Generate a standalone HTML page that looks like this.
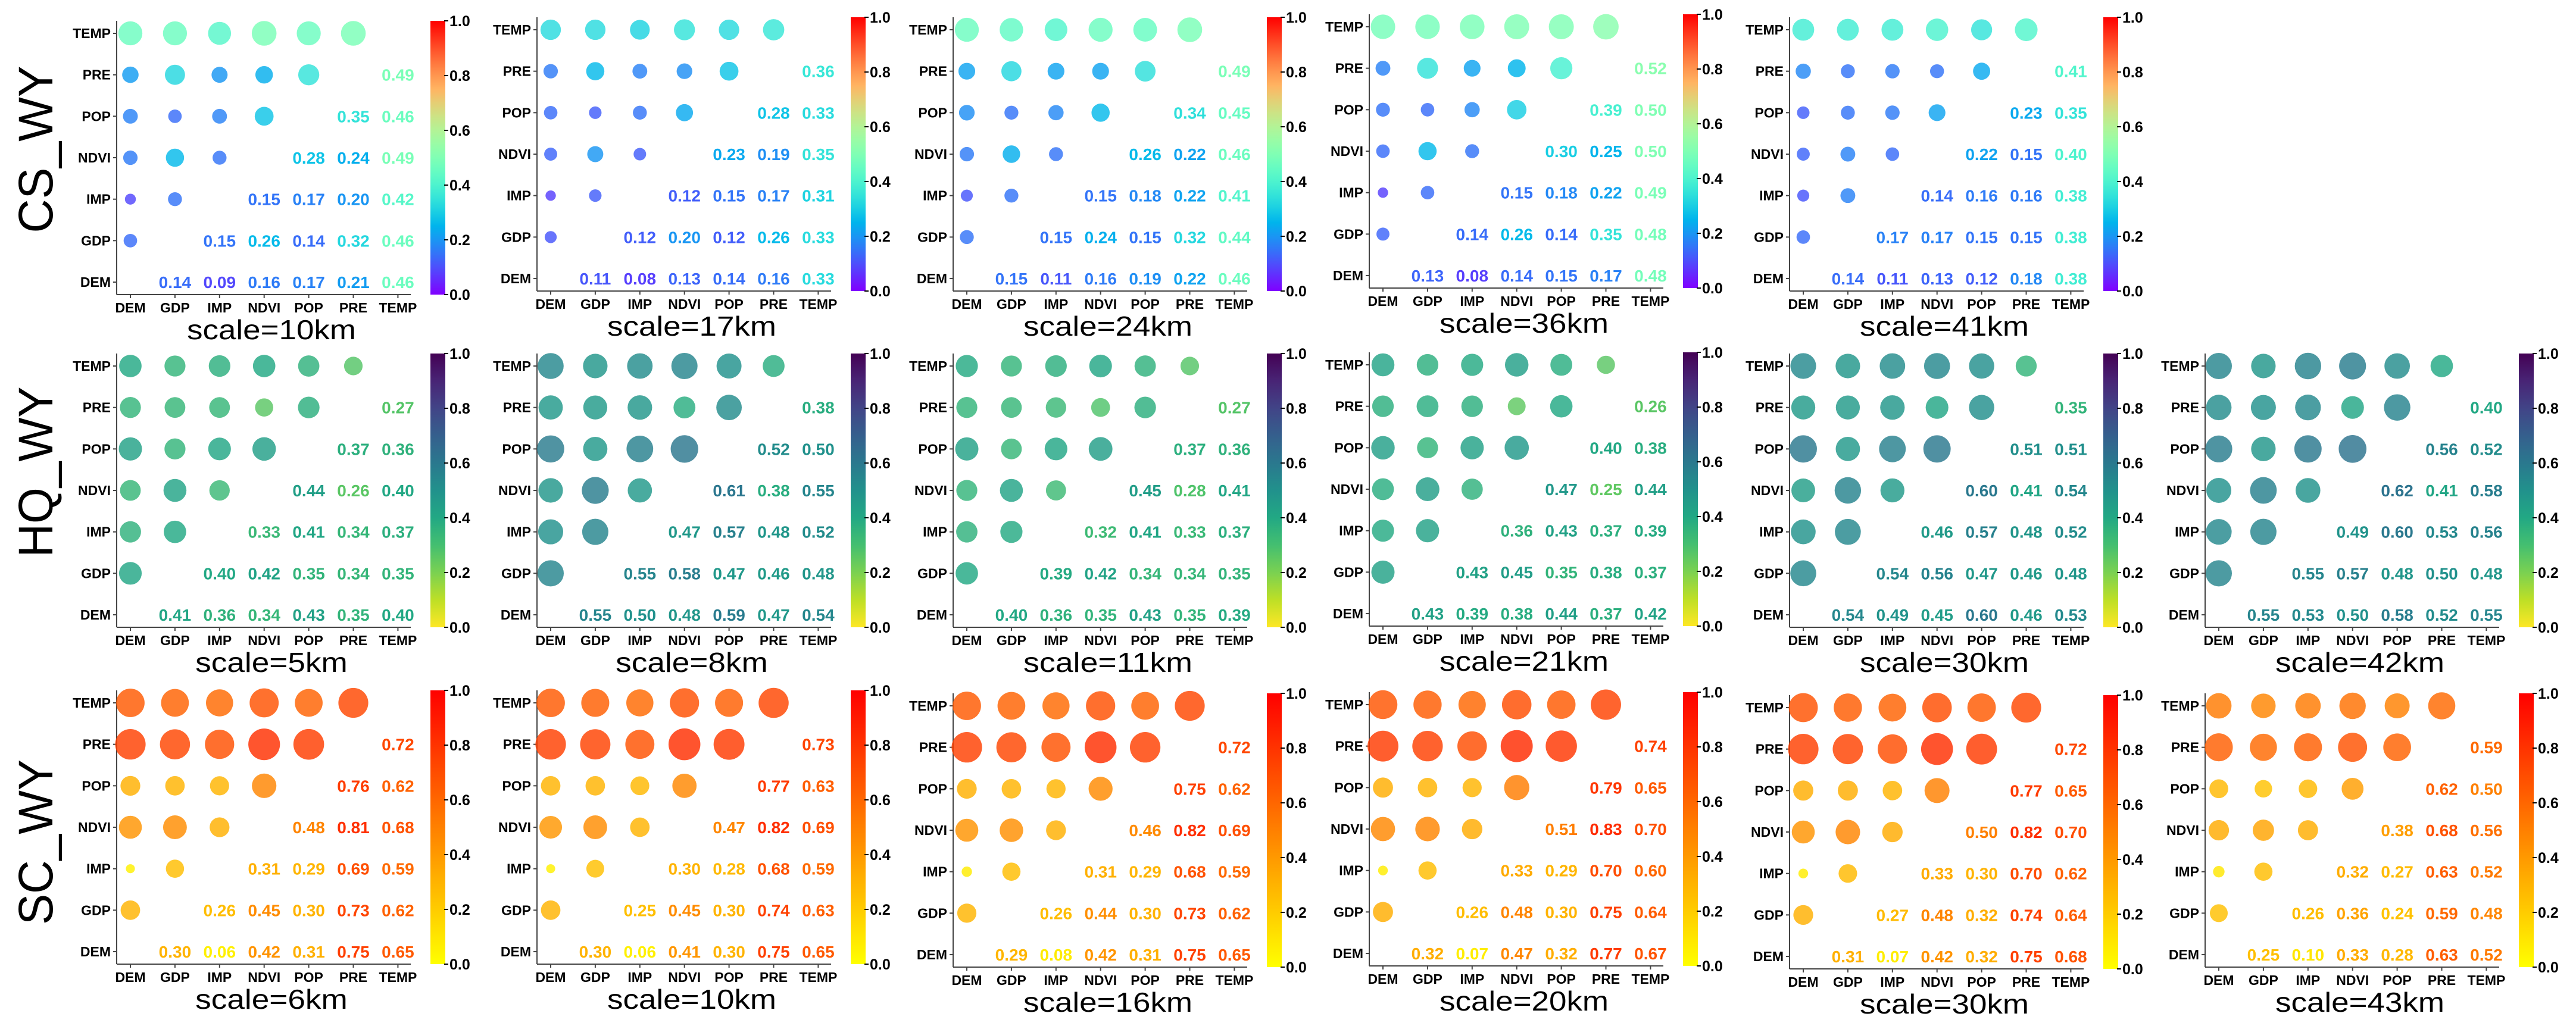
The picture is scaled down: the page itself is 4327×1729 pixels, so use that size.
<!DOCTYPE html>
<html><head><meta charset="utf-8"><title>Correlation bubble matrices</title>
<style>
html,body{margin:0;padding:0;background:#fff;}
svg{display:block;font-family:"Liberation Sans",Arial,sans-serif;}
</style></head>
<body>
<svg id="fig" xmlns="http://www.w3.org/2000/svg" width="4327" height="1729" viewBox="0 0 4327 1729">
<rect x="0" y="0" width="4327" height="1729" fill="#fff"/>
<text x="0" y="0" transform="translate(88,251) rotate(-90)" text-anchor="middle" font-size="82" textLength="281" lengthAdjust="spacingAndGlyphs">CS_WY</text>
<text x="0" y="0" transform="translate(88,793) rotate(-90)" text-anchor="middle" font-size="82" textLength="287" lengthAdjust="spacingAndGlyphs">HQ_WY</text>
<text x="0" y="0" transform="translate(88,1415) rotate(-90)" text-anchor="middle" font-size="82" textLength="278" lengthAdjust="spacingAndGlyphs">SC_WY</text>
</svg>
<script>
const vars = ["DEM","GDP","IMP","NDVI","POP","PRE","TEMP"];
const cbTicks = [0.0,0.2,0.4,0.6,0.8,1.0];

const csScales = ["10km","17km","24km","36km","41km"];
const csValues = [
 [[.14,.09,.16,.17,.21,.46],[.15,.26,.14,.32,.46],[.15,.17,.20,.42],[.28,.24,.49],[.35,.46],[.49]],
 [[.11,.08,.13,.14,.16,.33],[.12,.20,.12,.26,.33],[.12,.15,.17,.31],[.23,.19,.35],[.28,.33],[.36]],
 [[.15,.11,.16,.19,.22,.46],[.15,.24,.15,.32,.44],[.15,.18,.22,.41],[.26,.22,.46],[.34,.45],[.49]],
 [[.13,.08,.14,.15,.17,.48],[.14,.26,.14,.35,.48],[.15,.18,.22,.49],[.30,.25,.50],[.39,.50],[.52]],
 [[.14,.11,.13,.12,.18,.38],[.17,.17,.15,.15,.38],[.14,.16,.16,.38],[.22,.15,.40],[.23,.35],[.41]]
];
const hqScales = ["5km","8km","11km","21km","30km","42km"];
const hqValues = [
 [[.41,.36,.34,.43,.35,.40],[.40,.42,.35,.34,.35],[.33,.41,.34,.37],[.44,.26,.40],[.37,.36],[.27]],
 [[.55,.50,.48,.59,.47,.54],[.55,.58,.47,.46,.48],[.47,.57,.48,.52],[.61,.38,.55],[.52,.50],[.38]],
 [[.40,.36,.35,.43,.35,.39],[.39,.42,.34,.34,.35],[.32,.41,.33,.37],[.45,.28,.41],[.37,.36],[.27]],
 [[.43,.39,.38,.44,.37,.42],[.43,.45,.35,.38,.37],[.36,.43,.37,.39],[.47,.25,.44],[.40,.38],[.26]],
 [[.54,.49,.45,.60,.46,.53],[.54,.56,.47,.46,.48],[.46,.57,.48,.52],[.60,.41,.54],[.51,.51],[.35]],
 [[.55,.53,.50,.58,.52,.55],[.55,.57,.48,.50,.48],[.49,.60,.53,.56],[.62,.41,.58],[.56,.52],[.40]]
];
const scScales = ["6km","10km","16km","20km","30km","43km"];
const scValues = [
 [[.30,.06,.42,.31,.75,.65],[.26,.45,.30,.73,.62],[.31,.29,.69,.59],[.48,.81,.68],[.76,.62],[.72]],
 [[.30,.06,.41,.30,.75,.65],[.25,.45,.30,.74,.63],[.30,.28,.68,.59],[.47,.82,.69],[.77,.63],[.73]],
 [[.29,.08,.42,.31,.75,.65],[.26,.44,.30,.73,.62],[.31,.29,.68,.59],[.46,.82,.69],[.75,.62],[.72]],
 [[.32,.07,.47,.32,.77,.67],[.26,.48,.30,.75,.64],[.33,.29,.70,.60],[.51,.83,.70],[.79,.65],[.74]],
 [[.31,.07,.42,.32,.75,.68],[.27,.48,.32,.74,.64],[.33,.30,.70,.62],[.50,.82,.70],[.77,.65],[.72]],
 [[.25,.10,.33,.28,.63,.52],[.26,.36,.24,.59,.48],[.32,.27,.63,.52],[.38,.68,.56],[.62,.50],[.59]]
];

// layout (not data)
const panelX = [196,902,1601,2300,3006,3704];
const csTops = [35,29,29,24,29];
const hqTops = [594,594,594,592,594,594];
const scTops = [1160,1160,1165,1163,1168,1165];

const NS = "http://www.w3.org/2000/svg";
const svg = document.getElementById('fig');
function mk(tag, attrs, parent){
  const e = document.createElementNS(NS, tag);
  for (const k in attrs) e.setAttribute(k, attrs[k]);
  (parent||svg).appendChild(e);
  return e;
}
function clamp(x){return Math.max(0,Math.min(1,x));}
function rgb(r,g,b){return 'rgb('+Math.round(clamp(r)*255)+','+Math.round(clamp(g)*255)+','+Math.round(clamp(b)*255)+')';}
function rainbow(t){return rgb(Math.abs(2*t-0.5), Math.sin(Math.PI*t), Math.cos(Math.PI*t/2));}
const vir = [[68,1,84],[72,36,117],[65,68,135],[53,95,141],[42,120,142],[33,145,140],[34,168,132],[68,191,112],[122,209,81],[189,223,38],[253,231,37]];
function viridisR(t){
  const s = clamp(1-t)*10, i = Math.min(9, Math.floor(s)), f = s - i;
  const a = vir[i], b = vir[i+1];
  return 'rgb('+Math.round(a[0]+(b[0]-a[0])*f)+','+Math.round(a[1]+(b[1]-a[1])*f)+','+Math.round(a[2]+(b[2]-a[2])*f)+')';
}
function autumnR(t){return rgb(1, 1-t, 0);}

function drawPanel(values, scaleLabel, ax, top, cmap, gid, pi){
  const g = mk('g', {});
  
  
  const H = 460, W = 494;
  const xOf = k => ax + 23 + k*74.9;
  const yOf = k => top + 21 + (6-k)*69.67;
  const rOf = v => (58*Math.sqrt(v)+1)/2;
  // axes
  const yl = mk('line',{x1:ax,y1:top,x2:ax,y2:top+H,stroke:'#444','stroke-width':2},g);
  
  
  const xl = mk('line',{x1:ax,y1:top+H,x2:ax+W,y2:top+H,stroke:'#444','stroke-width':2},g);
  
  
  for (let k=0;k<7;k++){
    mk('line',{x1:ax-6,y1:yOf(k),x2:ax,y2:yOf(k),stroke:'#444','stroke-width':2},g);
    const yt = mk('text',{x:ax-10,y:yOf(k)+8,'text-anchor':'end','font-size':23,'font-weight':'bold',fill:'#000'},g);
    yt.textContent = vars[k];
    
    
    mk('line',{x1:xOf(k),y1:top+H,x2:xOf(k),y2:top+H+6,stroke:'#444','stroke-width':2},g);
    const xt = mk('text',{x:xOf(k),y:top+H+30,'text-anchor':'middle','font-size':23,'font-weight':'bold',fill:'#000'},g);
    xt.textContent = vars[k];
    
    
  }
  // values
  for (let i=0;i<6;i++){
    for (let jj=0;jj<values[i].length;jj++){
      const j = i+1+jj, v = values[i][jj];
      const c = mk('circle',{cx:xOf(i),cy:yOf(j),r:rOf(v),fill:cmap(v),'fill-opacity':0.82},g);
      
      
      const t = mk('text',{x:xOf(j),y:yOf(i)+10,'text-anchor':'middle','font-size':28,'font-weight':'bold',fill:cmap(v)},g);
      t.textContent = v.toFixed(2);
      
      
    }
  }
  // colorbar
  const cbx = ax+527, cbw = 25;
  const gradId = gid+'grad'+pi;
  const defs = mk('defs',{},g);
  const lg = mk('linearGradient',{id:gradId,x1:0,y1:1,x2:0,y2:0},defs);
  for (let s=0;s<=20;s++){ mk('stop',{offset:(s/20),'stop-color':cmap(s/20)},lg); }
  const cb = mk('rect',{x:cbx,y:top,width:cbw,height:H,fill:'url(#'+gradId+')'},g);
  
  
  cbTicks.forEach(tv=>{
    const ty = top + H - tv*H;
    mk('line',{x1:cbx+cbw-2,y1:ty,x2:cbx+cbw+5,y2:ty,stroke:'#000','stroke-width':2},g);
    const tl = mk('text',{x:cbx+cbw+7,y:ty+9,'font-size':25,'font-weight':'bold',fill:'#000'},g);
    tl.textContent = tv.toFixed(1);
    
    
  });
  // title
  const txt = 'scale='+scaleLabel;
  const tt = mk('text',{x:ax+260,y:top+H+75,'text-anchor':'middle','font-size':46,fill:'#000',textLength:(txt.length*28.4),lengthAdjust:'spacingAndGlyphs'},g);
  tt.textContent = txt;
  
  
}
csValues.forEach((v,i)=>drawPanel(v, csScales[i], panelX[i], csTops[i], rainbow, 'cs', i));
hqValues.forEach((v,i)=>drawPanel(v, hqScales[i], panelX[i], hqTops[i], viridisR, 'hq', i));
scValues.forEach((v,i)=>drawPanel(v, scScales[i], panelX[i], scTops[i], autumnR, 'sc', i));
</script>
</body></html>
